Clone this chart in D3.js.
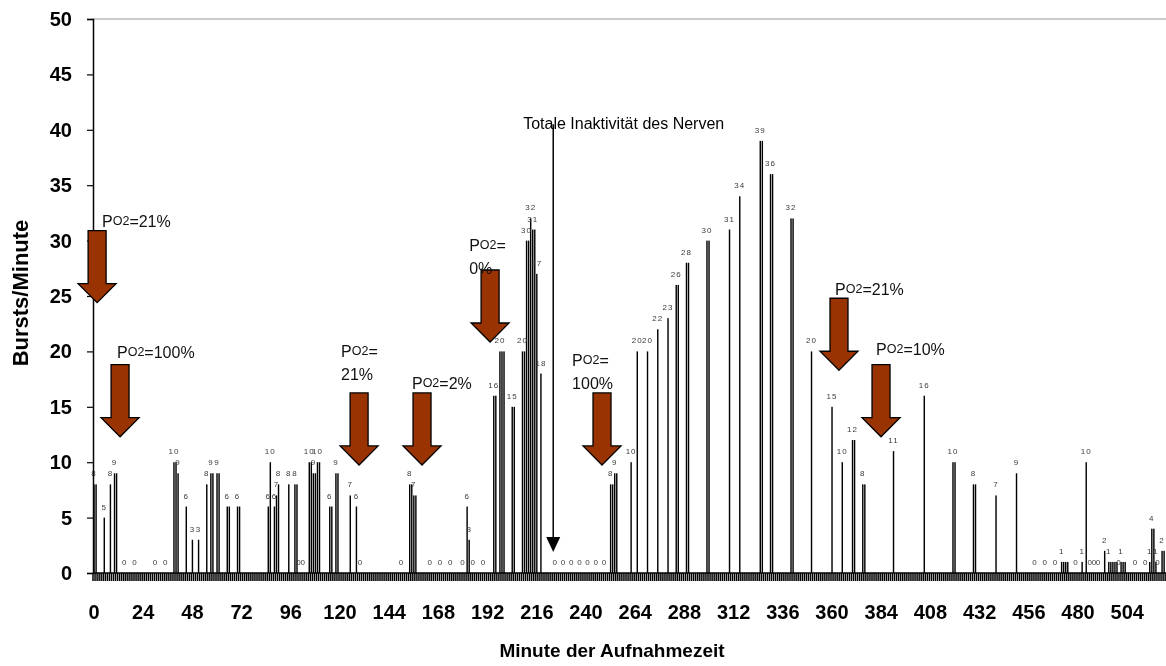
<!DOCTYPE html>
<html>
<head>
<meta charset="utf-8">
<script src="https://cdn.jsdelivr.net/npm/d3@7"></script>
<style>
  body { margin: 0; background: #fff; }
  svg { display: block; }
</style>
</head>
<body>
<svg id="chart" width="1166" height="666"></svg>
<script>
// Recorded minutes and the bursts counted in each of them
const minutes = [0, 1, 5, 8, 10, 11, 15, 20, 30, 35, 39, 40, 41, 45, 48, 51, 55, 57, 58, 60, 61, 65, 66, 70, 71,
  85, 86, 88, 89, 90, 95, 98, 99, 100, 102, 105, 106, 107, 108, 109, 110, 115, 116, 118, 119, 125, 128, 130,
  150, 154, 155, 156, 157, 164, 169, 174, 180, 182, 183, 185, 190, 195, 196, 198, 199, 200, 204, 205,
  209, 210, 211, 212, 213, 214, 215, 216, 218, 225, 229, 233, 237, 241, 245, 249, 252, 253, 254, 255,
  262, 265, 270, 275, 280, 284, 285, 289, 290, 299, 300, 310, 315, 325, 326, 330, 331, 340, 341,
  350, 360, 365, 370, 371, 375, 376, 390, 405, 419, 420, 429, 430, 440, 450, 459, 464, 469,
  472, 473, 474, 475, 479, 482, 484, 486, 488, 490, 493, 495, 496, 497, 498, 499, 500, 501, 502, 503,
  508, 513, 515, 516, 517, 518, 519, 520, 521, 522];
const bursts = [8, 8, 5, 8, 9, 9, 0, 0, 0, 0, 10, 10, 9, 6, 3, 3, 8, 9, 9, 9, 9, 6, 6, 6, 6,
  6, 10, 6, 7, 8, 8, 8, 8, 0, 0, 10, 10, 9, 9, 10, 10, 6, 6, 9, 9, 7, 6, 0,
  0, 8, 8, 7, 7, 0, 0, 0, 0, 6, 3, 0, 0, 16, 16, 20, 20, 20, 15, 15,
  20, 20, 30, 30, 32, 31, 31, 27, 18, 0, 0, 0, 0, 0, 0, 0, 8, 8, 9, 9,
  10, 20, 20, 22, 23, 26, 26, 28, 28, 30, 30, 31, 34, 39, 39, 36, 36, 32, 32,
  20, 15, 10, 12, 12, 8, 8, 11, 16, 10, 10, 8, 8, 7, 9, 0, 0, 0,
  1, 1, 1, 1, 0, 1, 10, 0, 0, 0, 2, 1, 1, 1, 1, 1, 0, 1, 1, 1,
  0, 0, 1, 4, 4, 1, 0, 0, 2, 2];

const categoryCount = 540;
const xTickLabels = [0, 24, 48, 72, 96, 120, 144, 168, 192, 216, 240, 264, 288, 312, 336, 360, 384, 408, 432, 456, 480, 504];
const yTickLabels = [0, 5, 10, 15, 20, 25, 30, 35, 40, 45, 50];

// Oxygen partial pressure changes: arrow position (minute, value at the tip) and caption anchor
const noteLines = [["PO2=21%"], ["PO2=100%"], ["PO2=", "21%"], ["PO2=2%"], ["PO2=", "0%"], ["PO2=", "100%"], ["PO2=21%"], ["PO2=10%"]];
const arrowMinutes = [1.5, 12.7, 129.3, 160, 193.2, 247.8, 363.4, 383.9];
const arrowTipValues = [24.4, 12.3, 9.75, 9.75, 20.85, 9.75, 18.3, 12.3];
const noteMinutes = [3.9, 11.2, 120.5, 155.1, 183, 233.2, 361.5, 381.5];
const noteValues = [31.2, 19.4, 19.5, 16.6, 29.1, 18.7, 25.1, 19.7];

const inactivityText = "Totale Inaktivität des Nerven";
const inactivityMinute = 224;
const inactivityTop = 40.5;
const inactivityTip = 1.9;

const xTitle = "Minute der Aufnahmezeit";
const yTitle = "Bursts/Minute";

// ---- layout ----
const W = 1166, H = 666;
const plotLeft = 93, plotTop = 19, plotBottom = 573;
const step = 2.05;
const FONT = "Liberation Sans, Arial, sans-serif";

const root = d3.select("#chart");
root.append("rect").attr("width", W).attr("height", H).attr("fill", "#fff");
// grayscale text anti-aliasing
const svg = root.append("g").attr("opacity", 0.999);

const x = d3.scaleBand()
  .domain(d3.range(categoryCount))
  .range([plotLeft, plotLeft + categoryCount * step])
  .paddingInner(0.3)
  .paddingOuter(0.15);
const xLin = d3.scaleLinear().domain([0, categoryCount]).range([plotLeft, plotLeft + categoryCount * step]);
const y = d3.scaleLinear().domain([0, 50]).range([plotBottom, plotTop]);

const data = minutes.map((m, i) => ({ m, v: bursts[i] }));

// top border of the plot area
svg.append("line")
  .attr("x1", plotLeft).attr("x2", W)
  .attr("y1", y(50)).attr("y2", y(50))
  .attr("stroke", "#9a9a9a").attr("stroke-width", 1.2);

// bars
svg.append("g").selectAll("rect")
  .data(data.filter(d => d.v > 0))
  .join("rect")
  .attr("x", d => x(d.m))
  .attr("width", x.bandwidth())
  .attr("y", d => y(d.v))
  .attr("height", d => y(0) - y(d.v))
  .attr("fill", "#000");

// value labels (one per run of equal neighbouring values)
const labelled = data.filter((d, i) => !(i > 0 && data[i - 1].m === d.m - 1 && data[i - 1].v === d.v));
svg.append("g").selectAll("text")
  .data(labelled)
  .join("text")
  .attr("x", d => x(d.m) + x.bandwidth() / 2)
  .attr("y", d => y(d.v) - 8)
  .attr("text-anchor", "middle")
  .attr("font-family", FONT)
  .attr("font-size", 8)
  .attr("letter-spacing", 1)
  .attr("fill", "#3a3a3a")
  .text(d => d.v);

// category tick marks along the x axis
svg.append("g").selectAll("line")
  .data(d3.range(categoryCount + 1))
  .join("line")
  .attr("x1", i => xLin(i)).attr("x2", i => xLin(i))
  .attr("y1", plotBottom).attr("y2", plotBottom + 8)
  .attr("stroke", "#000").attr("stroke-width", 1.5);

svg.append("line")
  .attr("x1", plotLeft).attr("x2", W)
  .attr("y1", plotBottom).attr("y2", plotBottom)
  .attr("stroke", "#000").attr("stroke-width", 1.5);

// x tick labels
const xAxis = svg.append("g")
  .attr("transform", `translate(0,${plotBottom})`)
  .call(d3.axisBottom(x).tickValues(xTickLabels).tickSize(0).tickPadding(32));
xAxis.select(".domain").remove();
xAxis.selectAll("text")
  .attr("font-family", FONT)
  .attr("font-size", 20).attr("font-weight", "bold").attr("fill", "#000");

// y axis
const yAxis = svg.append("g")
  .attr("transform", `translate(${plotLeft},0)`)
  .call(d3.axisLeft(y).tickValues(yTickLabels).tickSize(6).tickPadding(15));
yAxis.select(".domain").attr("stroke", "#000").attr("stroke-width", 1.5);
yAxis.selectAll(".tick line").attr("stroke", "#000").attr("stroke-width", 1.2);
yAxis.selectAll("text")
  .attr("font-family", FONT)
  .attr("font-size", 20).attr("font-weight", "bold").attr("fill", "#000");

// axis titles
svg.append("text")
  .attr("x", 612).attr("y", 657)
  .attr("text-anchor", "middle")
  .attr("font-family", FONT)
  .attr("font-size", 19).attr("font-weight", "bold")
  .text(xTitle);
svg.append("text")
  .attr("transform", "translate(28,293) rotate(-90)")
  .attr("text-anchor", "middle")
  .attr("font-family", FONT)
  .attr("font-size", 22).attr("font-weight", "bold")
  .text(yTitle);

// inactivity marker
const ix = xLin(inactivityMinute + 0.5);
svg.append("line")
  .attr("x1", ix).attr("x2", ix)
  .attr("y1", y(inactivityTop)).attr("y2", y(inactivityTip) - 12)
  .attr("stroke", "#000").attr("stroke-width", 1.5);
svg.append("path")
  .attr("d", `M${ix - 7},${y(inactivityTip) - 15} L${ix + 7},${y(inactivityTip) - 15} L${ix},${y(inactivityTip)} Z`)
  .attr("fill", "#000");
svg.append("text")
  .attr("x", ix - 30).attr("y", y(inactivityTop) + 5)
  .attr("font-family", FONT)
  .attr("font-size", 16).attr("fill", "#000")
  .text(inactivityText);

// block arrows for the oxygen changes
const arrowLen = 72, shaftHalf = 9, headHalf = 19, headLen = 19;
svg.append("g").selectAll("path")
  .data(arrowMinutes.map((m, i) => ({ m, v: arrowTipValues[i] })))
  .join("path")
  .attr("d", d => {
    const cx = xLin(d.m + 0.5), ty = y(d.v), t0 = ty - arrowLen, hb = ty - headLen;
    return `M${cx - shaftHalf},${t0} L${cx + shaftHalf},${t0} L${cx + shaftHalf},${hb} L${cx + headHalf},${hb} L${cx},${ty} L${cx - headHalf},${hb} L${cx - shaftHalf},${hb} Z`;
  })
  .attr("fill", "#993300")
  .attr("stroke", "#000")
  .attr("stroke-width", 1.3)
  .attr("stroke-linejoin", "miter");

// captions: "P" followed by a smaller raised "O2"
noteLines.forEach((lines, i) => {
  const tx = xLin(noteMinutes[i] + 0.5), ty = y(noteValues[i]);
  lines.forEach((line, j) => {
    const t = svg.append("text")
      .attr("x", tx).attr("y", ty + j * 23)
      .attr("font-family", FONT)
      .attr("font-size", 16).attr("fill", "#111");
    if (line.startsWith("PO2")) {
      t.append("tspan").text("P");
      t.append("tspan").attr("font-size", 12.5).attr("dy", -2).text("O2");
      t.append("tspan").attr("dy", 2).text(line.slice(3));
    } else {
      t.text(line);
    }
  });
});
</script>
</body>
</html>
